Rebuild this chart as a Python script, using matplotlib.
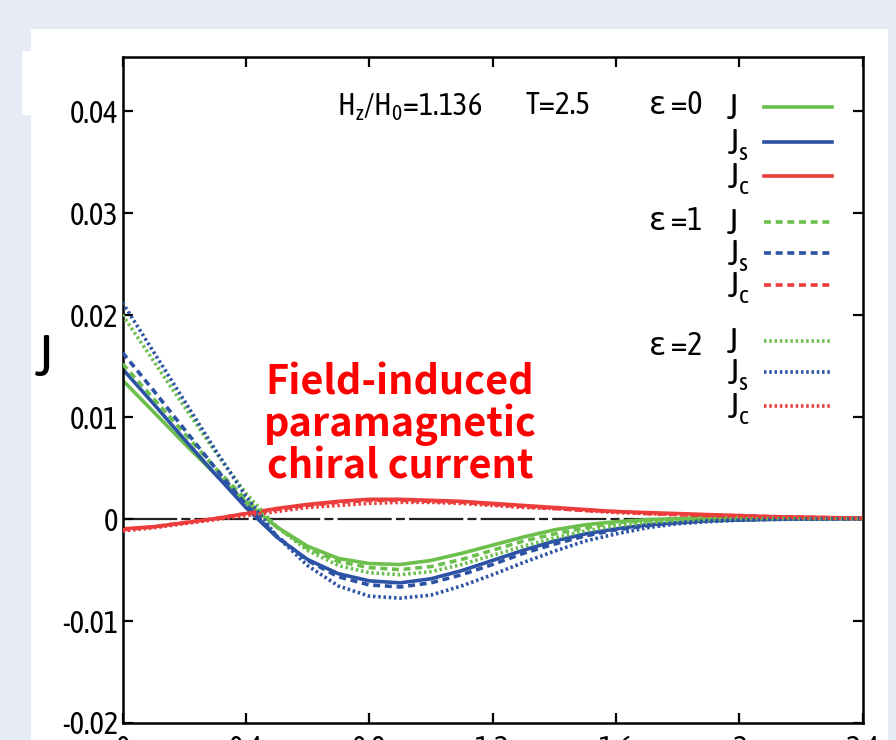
import matplotlib
matplotlib.use('Agg')
import matplotlib.pyplot as plt
from matplotlib.patches import Rectangle

plt.rcParams['lines.scale_dashes'] = False
FONT = ['Asap Condensed', 'Liberation Sans Narrow', 'DejaVu Sans']
plt.rcParams['font.family'] = FONT
plt.rcParams['mathtext.fontset'] = 'custom'
plt.rcParams['mathtext.rm'] = 'Asap Condensed'

# ---------------- data ----------------
x = [0.0, 0.1, 0.2, 0.3, 0.4, 0.5, 0.6, 0.7, 0.8, 0.9, 1.0, 1.1, 1.2,
     1.3, 1.4, 1.5, 1.6, 1.7, 1.8, 1.9, 2.0, 2.1, 2.2, 2.3, 2.4]

# epsilon = 0 (solid)
J_e0 = [0.0136, 0.0105, 0.0074, 0.0044, 0.0016, -0.0008, -0.0027, -0.0039, -0.0044,
        -0.0045, -0.0041, -0.0034, -0.0026, -0.0018, -0.0011, -0.0006, -0.0003,
        -0.0001, 0.0000, 0.0001, 0.0001, 0.00006, 0.00004, 0.00002, 0.00001]
Js_e0 = [0.0147, 0.0113, 0.0078, 0.0044, 0.0011, -0.0018, -0.0040, -0.0054, -0.0061,
         -0.0063, -0.0059, -0.0051, -0.0041, -0.0031, -0.0022, -0.0015, -0.0010,
         -0.0006, -0.0004, -0.0002, -0.00012, -0.00006, -0.00003, -0.00001, 0.0]
Jc_e0 = [-0.0010, -0.0008, -0.0004, 0.0000, 0.0005, 0.0010, 0.0014, 0.0017, 0.0019,
         0.0019, 0.0018, 0.0017, 0.0015, 0.0013, 0.0011, 0.0009, 0.0007, 0.0006,
         0.0005, 0.0004, 0.0003, 0.0002, 0.00015, 0.0001, 0.00005]

# epsilon = 1 (dashed)
J_e1 = [0.0152, 0.0118, 0.0084, 0.0050, 0.0019, -0.0008, -0.0029, -0.0042, -0.0048,
        -0.0050, -0.0047, -0.0040, -0.0031, -0.0022, -0.0015, -0.0009, -0.0004,
        -0.0002, 0.0000, 0.0001, 0.0001, 0.00006, 0.00004, 0.00002, 0.00001]
Js_e1 = [0.0163, 0.0126, 0.0088, 0.0050, 0.0014, -0.0017, -0.0041, -0.0057, -0.0065,
         -0.0067, -0.0063, -0.0055, -0.0045, -0.0034, -0.0025, -0.0017, -0.0011,
         -0.0007, -0.0004, -0.0002, -0.00013, -0.00007, -0.00004, -0.00002, 0.0]
Jc_e1 = [-0.0011, -0.0008, -0.0004, 0.0000, 0.0005, 0.0009, 0.0013, 0.0016, 0.0018,
         0.0018, 0.0017, 0.0016, 0.0014, 0.0012, 0.0010, 0.0008, 0.0007, 0.0005,
         0.0004, 0.0003, 0.0003, 0.0002, 0.00015, 0.0001, 0.00005]

# epsilon = 2 (dotted)
J_e2 = [0.0200, 0.0155, 0.0110, 0.0066, 0.0025, -0.0008, -0.0031, -0.0046, -0.0053,
        -0.0055, -0.0052, -0.0045, -0.0036, -0.0027, -0.0019, -0.0012, -0.0007,
        -0.0004, -0.0002, -0.0001, 0.0000, 0.0000, 0.0000, 0.0000, 0.0000]
Js_e2 = [0.0212, 0.0164, 0.0116, 0.0068, 0.0022, -0.0017, -0.0046, -0.0066, -0.0076,
         -0.0078, -0.0075, -0.0066, -0.0055, -0.0043, -0.0032, -0.0022, -0.0015,
         -0.0009, -0.0005, -0.0003, -0.00015, -0.00008, -0.00004, -0.00002, 0.0]
Jc_e2 = [-0.0012, -0.0009, -0.0005, -0.0001, 0.0003, 0.0007, 0.0011, 0.0013, 0.0015,
         0.0016, 0.0016, 0.0015, 0.0013, 0.0011, 0.0010, 0.0008, 0.0006, 0.0005,
         0.0004, 0.0003, 0.0002, 0.00015, 0.0001, 0.00005, 0.0]

xticks = [0, 0.4, 0.8, 1.2, 1.6, 2.0, 2.4]
xtick_labels = ['0', '0.4', '0.8', '1.2', '1.6', '2', '2.4']
yticks = [-0.02, -0.01, 0.0, 0.01, 0.02, 0.03, 0.04]
ytick_labels = ['-0.02', '-0.01', '0', '0.01', '0.02', '0.03', '0.04']

eps_labels = ['\u03b5 =0', '\u03b5 =1', '\u03b5 =2']
comp_labels = ['J', r'J$_\mathregular{s}$', r'J$_\mathregular{c}$']

# ---------------- style ----------------
GREEN = '#6cbf4c'
BLUE = '#2b52a4'
RED = '#ec3c3c'
colors = [GREEN, BLUE, RED]
LW = 2.6
styles = [dict(linestyle='-'),
          dict(linestyle=(0, (5.0, 3.4))),
          dict(linestyle=(0, (1.8, 2.0)))]

W, H = 896, 740
fig = plt.figure(figsize=(W / 100, H / 100), dpi=100, facecolor='#e6ebf5')
fig.patches.append(Rectangle((31 / W, 0), (888 - 31) / W, (740 - 29) / H,
                             transform=fig.transFigure, facecolor='white',
                             edgecolor='none', zorder=-5))
fig.patches.append(Rectangle((22 / W, 1 - 115 / H), (120 - 22) / W, (115 - 51) / H,
                             transform=fig.transFigure, facecolor='white',
                             edgecolor='none', zorder=-5))

L, R, T, B = 122.5, 862.5, 57, 722.5
ax = fig.add_axes([L / W, 1 - B / H, (R - L) / W, (B - T) / H])
ax.set_facecolor('white')

ax.axhline(0, color='#222222', lw=1.6, linestyle=(0, (39, 3, 6.5, 3)), zorder=1)

series = [(J_e0, Js_e0, Jc_e0), (J_e1, Js_e1, Jc_e1), (J_e2, Js_e2, Jc_e2)]
for si, trio in enumerate(series):
    for ci, ys in enumerate(trio):
        ax.plot(x, ys, color=colors[ci], lw=LW, zorder=2 + si, **styles[si])

ax.set_xlim(0, 2.4)
ax.set_ylim(-0.02, 0.0453)
ax.set_xticks(xticks)
ax.set_xticklabels(xtick_labels)
ax.set_yticks(yticks)
ax.set_yticklabels(ytick_labels)
ax.tick_params(direction='in', length=7, width=1.6, top=True, right=True,
               labelsize=22, colors='black')
ax.tick_params(axis='y', pad=3)
ax.tick_params(axis='x', pad=8)
for sp in ax.spines.values():
    sp.set_linewidth(1.8)
    sp.set_color('black')

ax.set_ylabel('J', rotation=0, fontsize=42, ha='center', va='center')
ax.yaxis.set_label_coords((44 - L) / (R - L), (B - 360) / (B - T))


def fx(px):
    return (px - L) / (R - L)


def fy(py):
    return (B - py) / (B - T)


# header texts
ax.text(fx(337), fy(107), r'H$_\mathregular{z}$/H$_\mathregular{0}$=1.136', fontsize=22,
        ha='left', va='center', transform=ax.transAxes)
ax.text(fx(526), fy(106), 'T=2.5', fontsize=22.5, ha='left', va='center',
        transform=ax.transAxes)

# legend (manual)
rows = [[107, 142, 176], [222, 253, 285], [341, 372, 406]]
eps_y = [105, 222, 347]
for gi in range(3):
    ax.text(fx(702), fy(eps_y[gi]), eps_labels[gi], fontsize=23, ha='right',
            va='center', transform=ax.transAxes)
    for ci in range(3):
        yy = rows[gi][ci]
        ax.text(fx(727), fy(yy + 12), comp_labels[ci], fontsize=26, ha='left',
                va='baseline', transform=ax.transAxes)
        ax.plot([fx(764), fx(832)], [fy(yy), fy(yy)], transform=ax.transAxes,
                color=colors[ci], lw=LW, **styles[gi])

fig.text(400 / W, 1 - 425 / H, 'Field-induced\nparamagnetic\nchiral current',
         ha='center', va='center', multialignment='center', color='#ff0000',
         fontsize=28.5, fontweight='bold', family=['Noto Sans CJK JP', 'DejaVu Sans'],
         linespacing=1.0)

fig.savefig('out.png', dpi=100, facecolor=fig.get_facecolor())
